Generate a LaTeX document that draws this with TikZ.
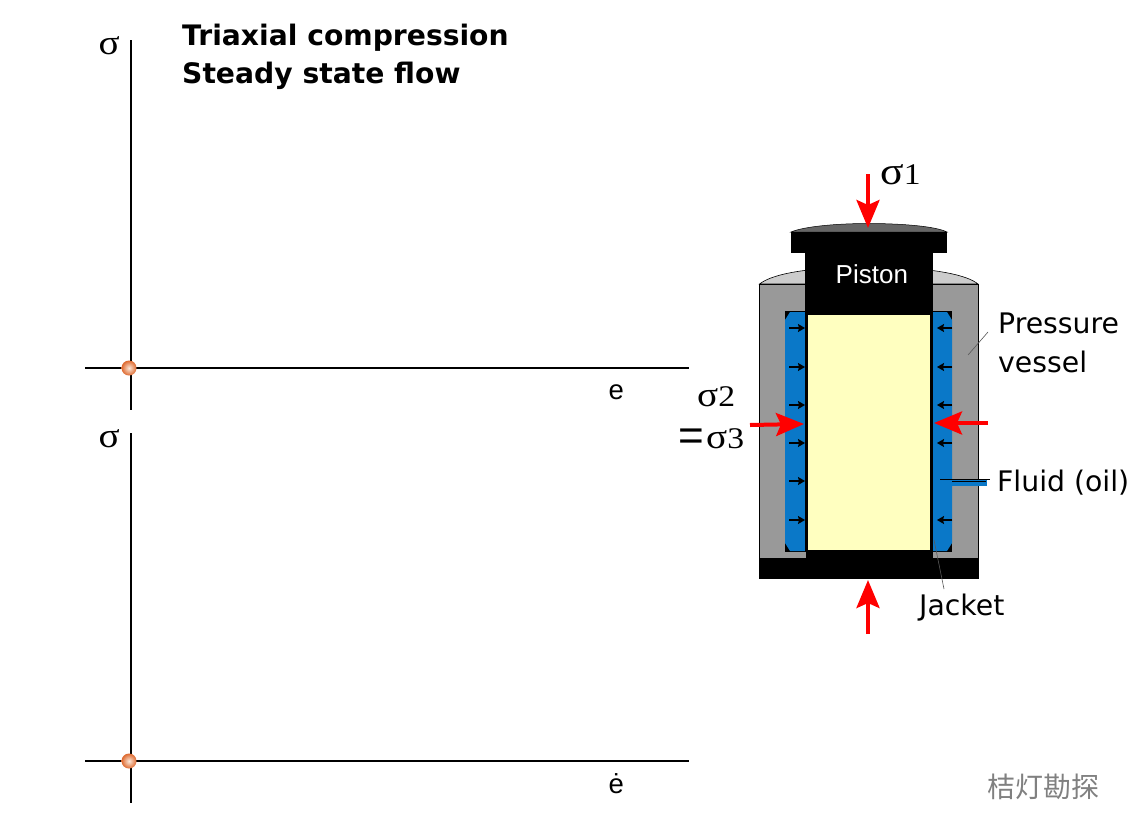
\documentclass[tikz,border=0pt]{standalone}
\usepackage{fontspec}
\setmainfont{DejaVu Sans}
\newfontfamily\serifsym[FakeStretch=1.12]{Liberation Serif}
\newfontfamily\arialf{Liberation Sans}
\newfontfamily\cjkf{Noto Sans CJK SC}
\usetikzlibrary{arrows.meta}
\definecolor{vesselgray}{HTML}{999999}
\definecolor{domegray}{HTML}{CCCCCC}
\definecolor{capgray}{HTML}{666666}
\definecolor{fluidblue}{HTML}{0A78C8}
\definecolor{specyellow}{HTML}{FFFFC0}
\definecolor{redforce}{HTML}{FF0000}
\definecolor{ballout}{HTML}{DE6A30}
\definecolor{ballin}{HTML}{FBE8DA}
\newcommand{\sgbig}[1]{{\fontsize{39}{39}\serifsym σ}{\fontsize{30}{30}\serifsym #1}}
\newcommand{\sgmid}[1]{{\fontsize{35}{35}\serifsym σ}{\fontsize{30}{30}\serifsym #1}}
\tikzset{
  axisline/.style={draw=black,line width=1.6pt},
  ball/.style={circle,minimum size=15pt,inner sep=0pt,inner color=ballin,outer color=ballout},
  forcearrow/.style={draw=redforce,line width=4pt,-{Stealth[length=28pt,width=23pt,inset=5pt]}},
  smallarrow/.style={draw=black,line width=1.1pt,-{Stealth[length=7pt,width=8pt,inset=1pt]}},
  leader/.style={draw=black!65,line width=0.6pt},
  sig/.style={anchor=base west,inner sep=0pt,font=\fontsize{35}{35}\serifsym},
  sigbig/.style={anchor=base west,inner sep=0pt},
  lab/.style={anchor=base west,inner sep=0pt,font=\fontsize{28.3}{28.3}\selectfont},
  titlelab/.style={anchor=base west,inner sep=0pt,font=\fontsize{28.2}{28.2}\selectfont\bfseries},
  axlab/.style={anchor=base west,inner sep=0pt,font=\fontsize{27.5}{27.5}\arialf},
}
\begin{document}
\begin{tikzpicture}[x=1pt,y=-1pt]
\useasboundingbox (0,0) rectangle (1146,833);
\fill[white] (0,0) rectangle (1146,833);
% axes
\coordinate (a1t) at (131,40); \coordinate (a1b) at (131,410);
\coordinate (a1l) at (85,368); \coordinate (a1r) at (689,368);
\coordinate (a2t) at (131,433); \coordinate (a2b) at (131,803);
\coordinate (a2l) at (85,761); \coordinate (a2r) at (689,761);
\draw[axisline] (a1t) -- (a1b);
\draw[axisline] (a1l) -- (a1r);
\draw[axisline] (a2t) -- (a2b);
\draw[axisline] (a2l) -- (a2r);
\node[ball] (b1) at (129,368) {};
\node[ball] (b2) at (129,761) {};
\node[sig] (s1) at (98.5,54) {σ};
\node[sig] (s2) at (98.5,447) {σ};
\node[axlab] (e1) at (608.5,399) {e};
\node[axlab] (e2) at (608.5,793) {ė};
\node[titlelab] (t1) at (182,45) {Triaxial compression};
\node[titlelab] (t2) at (182,83) {Steady state flow};
% vessel
\filldraw[fill=domegray,draw=black,line width=0.6pt] (759.5,284) .. controls (770,276) and (795,268) .. (868,266) .. controls (941,268) and (968,276) .. (978,284) -- cycle;
\filldraw[fill=vesselgray,draw=black,line width=0.8pt] (759.5,284) rectangle (978,560);
% fluid chambers
\fill[black] (785,311) rectangle (806,552);
\fill[black] (932,311) rectangle (952,552);
\fill[fluidblue] (790,312) -- (805,312) -- (805,551) -- (790,551) -- (785,543) -- (785,320) -- cycle;
\fill[fluidblue] (933,312) -- (947,312) -- (952,320) -- (952,543) -- (947,551) -- (933,551) -- cycle;
% channel
\fill[fluidblue] (952,480) rectangle (987,486);
\draw[black,line width=0.8pt] (952,481) -- (986,481);
% base
\fill[black] (759,558) rectangle (979,579);
\fill[black] (806,550) rectangle (933,558);
% jacket and specimen
\fill[black] (805,311) rectangle (808,552);
\fill[black] (930,311) rectangle (933,552);
\fill[specyellow] (808,315) rectangle (930,550);
% piston
\filldraw[fill=capgray,draw=black,line width=0.5pt] (791,232) .. controls (805,226) and (840,223.5) .. (868,223.5) .. controls (900,223.5) and (935,226) .. (947,232) -- cycle;
\fill[black] (791,231.5) rectangle (947,253);
\fill[black] (805,253) rectangle (933,315);
\node[inner sep=0pt,text=white,font=\fontsize{26}{26}\arialf,anchor=base west] (piston) at (835.5,283) {Piston};
% small arrows
\foreach \y [count=\i] in {328,367,405,443,481,520}{
  \coordinate (ls\i) at (789,\y); \coordinate (le\i) at (805,\y);
  \draw[smallarrow] (ls\i) -- (le\i);
}
\foreach \y [count=\i] in {328,367,405,443,520}{
  \coordinate (rs\i) at (952,\y); \coordinate (re\i) at (937,\y);
  \draw[smallarrow] (rs\i) -- (re\i);
}
% fluid leader
\coordinate (fl1) at (940,479); \coordinate (fl2) at (990,479);
\draw[black,line width=1pt] (fl1) -- (fl2);
% force arrows
\coordinate (f1s) at (868,174); \coordinate (f1e) at (868,228);
\coordinate (f2s) at (750,425); \coordinate (f2e) at (804,424);
\coordinate (f3s) at (988,423); \coordinate (f3e) at (934,423);
\coordinate (f4s) at (868,634); \coordinate (f4e) at (868,580);
\draw[forcearrow] (f1s) -- (f1e);
\draw[forcearrow] (f2s) -- (f2e);
\draw[forcearrow] (f3s) -- (f3e);
\draw[forcearrow] (f4s) -- (f4e);
% labels
\node[sigbig] (sg1) at (880,184) {\sgbig{1}};
\node[sigbig] (sg2) at (697,406) {\sgmid{2}};
\node[sigbig] (sg3) at (706,448) {\sgmid{3}};
\node[sigbig,font=\fontsize{44}{44}\arialf] (eq) at (678,450) {=};
\node[lab] (pv1) at (998,333) {Pressure};
\node[lab] (pv2) at (998,372) {vessel};
\node[lab] (fl) at (997,491) {Fluid (oil)};
\node[lab] (ja) at (919,615) {Jacket};
\coordinate (pl1) at (988,332); \coordinate (pl2) at (968,355);
\draw[leader] (pl1) -- (pl2);
\coordinate (jl1) at (934,540); \coordinate (jl2) at (944,589);
\draw[leader] (jl1) -- (jl2);
\node[anchor=base west,inner sep=0pt,text=black!50,font=\fontsize{28}{28}\cjkf] (wm) at (987,797) {桔灯勘探};
\end{tikzpicture}
\end{document}
